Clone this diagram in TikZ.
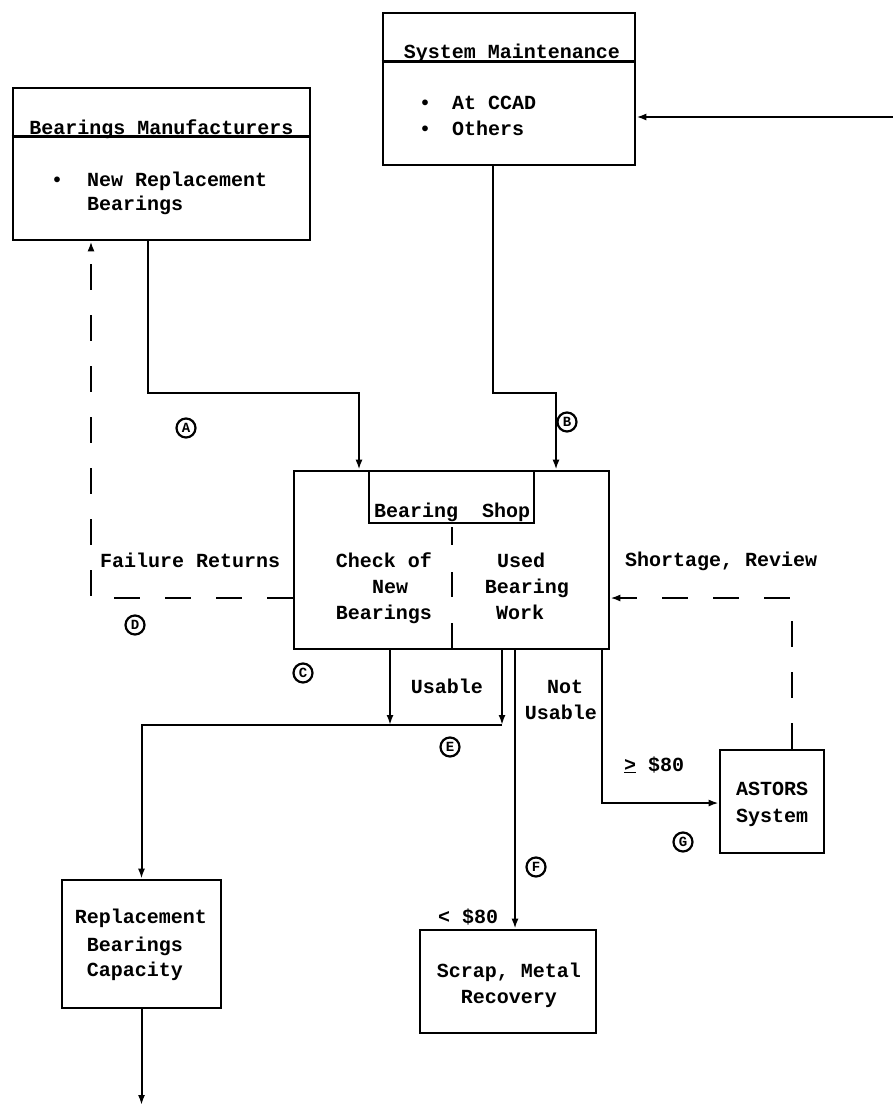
\documentclass[tikz,border=0pt]{standalone}
\usepackage{fontspec}
\setmainfont{Liberation Mono}
\usetikzlibrary{arrows.meta}
\begin{document}
\begin{tikzpicture}[x=1pt,y=-1pt,
  box/.style={draw, line width=2.6pt, inner sep=0pt},
  ln/.style={line width=2pt},
  tip/.style={-{Latex[length=10pt,width=7pt]}},
  arr/.style={ln, tip},
  dsh/.style={ln, dash pattern=on 26pt off 25pt},
  txt/.style={font=\fontsize{20}{25}\selectfont\bfseries, inner sep=0pt, anchor=base},
  txtl/.style={txt, anchor=base west},
  lbl/.style={circle, draw, line width=2.2pt, inner sep=0pt, minimum size=19pt, font=\fontsize{14}{14}\selectfont\bfseries}
]
\useasboundingbox (0,0) rectangle (893,1109);

% boxes
\node[box, minimum width=297pt, minimum height=152pt] (bm) at (161.5,164) {};
\draw[box] (bm.north west) ++(0,50) -- ++(297,0);
\node[box, minimum width=252pt, minimum height=152pt] (sm) at (509,89) {};
\draw[box] (sm.north west) ++(0,50) -- ++(252,0);
\node[box, minimum width=315pt, minimum height=178pt] (shop) at (451.5,560) {};
\node[box, minimum width=104pt, minimum height=103pt] (astors) at (772,801.5) {};
\node[box, minimum width=176pt, minimum height=103pt] (scrap) at (508,981.5) {};
\node[box, minimum width=159pt, minimum height=128pt] (repl) at (141.5,944) {};

% Bearings Manufacturers texts
\node[txt] (bmt) at (161.5,134) {Bearings Manufacturers};
\node[txtl] (bmb) at (51,186) {•};
\node[txtl] (bm1) at (87,186) {New Replacement};
\node[txtl] (bm2) at (87,210) {Bearings};

% System Maintenance texts
\node[txt] (smt) at (512,58) {System Maintenance};
\node[txtl] (smb1) at (419,109) {•};
\node[txtl] (sm1) at (452,109) {At CCAD};
\node[txtl] (smb2) at (419,135) {•};
\node[txtl] (sm2) at (452,135) {Others};

% Bearing Shop
\draw[box] (369,471) -- (369,523) -- (534,523) -- (534,471);
\node[txtl] (shopt) at (374,517) {Bearing\ \ Shop};
\draw[ln] (452,527) -- (452,545) (452,572) -- (452,597) (452,623) -- (452,649);
\node[txt] (c1) at (384,567) {Check of};
\node[txt] (c2) at (390,593) {New};
\node[txt] (c3) at (384,619) {Bearings};
\node[txt] (u1t) at (521,567) {Used};
\node[txt] (u2t) at (527,593) {Bearing};
\node[txt] (u3t) at (520,619) {Work};

% other boxes texts
\node[txt] (as1) at (772,795) {ASTORS};
\node[txt] (as2) at (772,822) {System};
\node[txt] (sc1) at (509,977) {Scrap, Metal};
\node[txt] (sc2) at (509,1003) {Recovery};
\node[txt] (r1) at (141,923) {Replacement};
\node[txt] (r2) at (135,951) {Bearings};
\node[txt] (r3) at (135,976) {Capacity};

% connector labels
\node[txtl] (fr) at (100,567) {Failure Returns};
\node[txtl] (sr) at (625,566) {Shortage, Review};
\node[txt] (us) at (447,693) {Usable};
\node[txt] (nu1) at (565,693) {Not};
\node[txt] (nu2) at (561,719) {Usable};
\node[txtl] (ge) at (624,771) {\underline{>} \$80};
\node[txtl] (lt) at (438,923) {< \$80};

% circled letters
\node[lbl] (la) at (186,428) {A};
\node[lbl] (lb) at (567,422) {B};
\node[lbl] (lc) at (303,673) {C};
\node[lbl] (ld) at (135,625) {D};
\node[lbl] (le) at (450,747) {E};
\node[lbl] (lf) at (536,867) {F};
\node[lbl] (lg) at (683,842) {G};

% junction coordinates
\coordinate (j1) at (148,393);
\coordinate (j2) at (359,393);
\coordinate (j3) at (493,393);
\coordinate (j4) at (556,393);
\coordinate (rin) at (893,117);
\coordinate (d1) at (91,598);
\coordinate (s1) at (792,598);
\coordinate (u1) at (390,725);
\coordinate (u2) at (502,725);
\coordinate (u3) at (141.5,725);
\coordinate (n1) at (515,700);
\coordinate (g1) at (602,803);
\coordinate (out) at (141.5,1105);

% connectors
\draw[arr] (bm.south -| j1) -- (j1) -- (j2) -- (j2 |- shop.north);
\draw[arr] (sm.south -| j3) -- (j3) -- (j4) -- (j4 |- shop.north);
\draw[arr] (rin) -- (rin -| sm.east);
\draw[dsh, tip] (shop.west |- d1) -- (d1) -- (d1 |- bm.south);
\draw[dsh, tip] (s1 |- astors.north) -- (s1) -- (s1 -| shop.east);
\draw[arr] (u1 |- shop.south) -- (u1);
\draw[arr] (u2 |- shop.south) -- (u2);
\draw[arr] (u2) -- (u3) -- (u3 |- repl.north);
\draw[arr] (n1 |- shop.south) -- (n1 |- scrap.north);
\draw[arr] (g1 |- shop.south) -- (g1) -- (g1 -| astors.west);
\draw[arr] (repl.south) -- (out);
\end{tikzpicture}
\end{document}
